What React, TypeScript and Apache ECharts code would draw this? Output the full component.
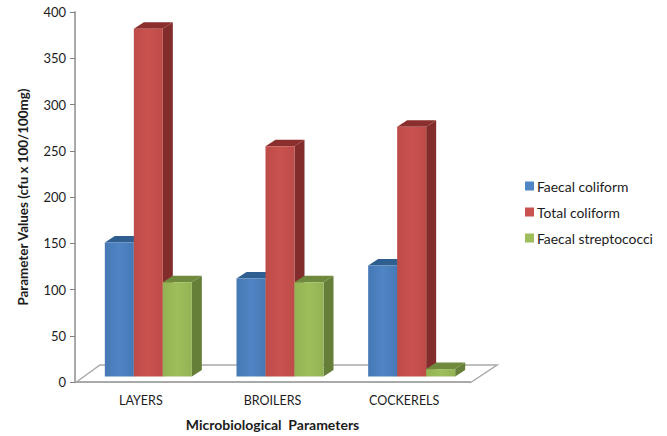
import React, { useEffect, useRef } from "react";
import * as echarts from "echarts";

const categories = ["LAYERS", "BROILERS", "COCKERELS"];
const faecalColiform = [145, 106, 120];
const totalColiform = [376, 249, 270];
const faecalStreptococci = [102, 102, 8];

const FONT = "Lato, 'Open Sans', sans-serif";
const TEXT = "#1c1c1c";
const AXIS = "#a9a9a9";

const BAR_W = 29;
const DEPTH_X = 10;
const DEPTH_Y = 6.5;
const LIFT = 5.5; // bars stand on the middle of the floor, above the axis line
const SHIFT = 7.5;

function bar3d(index: number, front: string, edge: string, top: string, side: string) {
  return (params: any, api: any) => {
    const cat = api.value(0);
    const zero = api.coord([cat, 0]);
    const peak = api.coord([cat, api.value(1)]);
    const x0 = zero[0] + SHIFT - 1.5 * BAR_W + index * BAR_W;
    const x1 = x0 + BAR_W;
    const yb = zero[1] - LIFT;
    const yt = peak[1] - LIFT;
    const fill = new echarts.graphic.LinearGradient(0, 0, 1, 0, [
      { offset: 0, color: edge },
      { offset: 0.5, color: front },
      { offset: 1, color: edge },
    ]);
    return {
      type: "group",
      children: [
        {
          type: "polygon",
          shape: { points: [[x1, yb], [x1 + DEPTH_X, yb - DEPTH_Y], [x1 + DEPTH_X, yt - DEPTH_Y], [x1, yt]] },
          style: { fill: side },
        },
        {
          type: "polygon",
          shape: { points: [[x0, yt], [x0 + DEPTH_X, yt - DEPTH_Y], [x1 + DEPTH_X, yt - DEPTH_Y], [x1, yt]] },
          style: { fill: top },
        },
        { type: "rect", shape: { x: x0, y: yt, width: BAR_W, height: yb - yt }, style: { fill } },
      ],
    };
  };
}

function series3d(name: string, values: number[], index: number, colors: string[]) {
  return {
    name,
    type: "custom",
    coordinateSystem: "cartesian2d",
    itemStyle: { color: colors[0] },
    encode: { x: 0, y: 1 },
    data: values.map((v, i) => [i, v]),
    renderItem: bar3d(index, colors[0], colors[1], colors[2], colors[3]),
  };
}

export default function App() {
  const ref = useRef<HTMLDivElement>(null);
  useEffect(() => {
    const chart = echarts.init(ref.current!, undefined, { renderer: "svg" });
    chart.setOption({
      animation: false,
      backgroundColor: "#ffffff",
      grid: { left: 75, top: 12, width: 395, height: 371 },
      legend: {
        left: 520,
        top: 174,
        orient: "vertical",
        itemWidth: 9,
        itemHeight: 9,
        itemGap: 12,
        icon: "rect",
        textStyle: { fontFamily: FONT, fontSize: 13.9, color: TEXT, padding: [0, 0, 0, -2] },
        data: ["Faecal coliform", "Total coliform", "Faecal streptococci"],
      },
      xAxis: {
        type: "category",
        data: categories,
        boundaryGap: true,
        name: "Microbiological  Parameters",
        nameLocation: "middle",
        nameGap: 35,
        nameTextStyle: { fontFamily: FONT, fontSize: 14, fontWeight: "bold", color: TEXT },
        axisLine: { lineStyle: { color: AXIS, width: 2 } },
        axisTick: { alignWithLabel: false, length: 3, lineStyle: { color: "#7f7f7f" } },
        axisLabel: { fontFamily: FONT, fontSize: 12.5, color: TEXT, margin: 12 },
      },
      yAxis: {
        type: "value",
        min: 0,
        max: 400,
        interval: 50,
        name: "Parameter Values (cfu x 100/100mg)",
        nameLocation: "middle",
        nameGap: 46,
        nameTextStyle: { fontFamily: FONT, fontSize: 13.4, fontWeight: "bold", color: TEXT },
        axisLine: { show: true, lineStyle: { color: AXIS, width: 2 } },
        axisTick: { show: true, length: 5, lineStyle: { color: "#7f7f7f" } },
        axisLabel: { fontFamily: FONT, fontSize: 13, color: TEXT, margin: 9 },
        splitLine: { show: false },
      },
      graphic: [
        {
          type: "polyline",
          z: 0,
          shape: { points: [[75, 383], [100, 365], [497, 365], [470, 383]] },
          style: { fill: "none", stroke: AXIS, lineWidth: 1.5 },
        },
      ],
      series: [
        series3d("Faecal coliform", faecalColiform, 0, ["#4f85c4", "#4678b5", "#2f5f91", "#2f5f91"]),
        series3d("Total coliform", totalColiform, 1, ["#c9524e", "#bd4c49", "#8a2f2d", "#822d2c"]),
        series3d("Faecal streptococci", faecalStreptococci, 2, ["#9ebe5c", "#93b353", "#6f8a3c", "#667f38"]),
      ],
    });
    return () => chart.dispose();
  }, []);
  return <div ref={ref} style={{ width: 667, height: 436, position: "absolute", left: 0, top: 0 }} />;
}
